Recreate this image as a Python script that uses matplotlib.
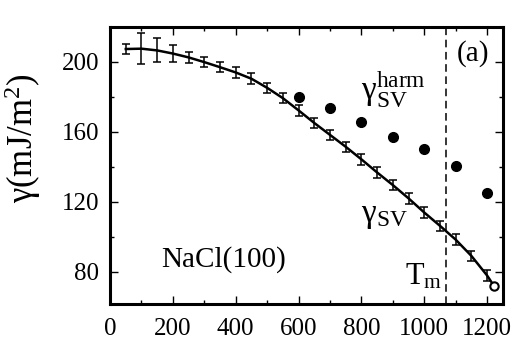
import matplotlib
matplotlib.use("Agg")
import matplotlib.pyplot as plt
from matplotlib.ticker import MultipleLocator

plt.rcParams['font.family'] = ['Liberation Serif', 'DejaVu Serif']
plt.rcParams['mathtext.fontset'] = 'custom'
plt.rcParams['mathtext.rm'] = 'Liberation Serif'
plt.rcParams['mathtext.it'] = 'Liberation Serif:italic'
plt.rcParams['mathtext.bf'] = 'Liberation Serif:bold'

# gamma_SV from simulation (with error bars)
temp = [50, 100, 150, 200, 250, 300, 350, 400, 450, 500, 550, 600,
        650, 700, 750, 800, 850, 900, 950, 1000, 1050, 1100, 1150, 1200]
gamma_sv = [207.4, 207.6, 206.6, 204.8, 202.6, 199.9, 197.0, 194.0, 190.4, 185.2, 179.3, 172.3,
            165.1, 158.3, 151.5, 144.3, 136.8, 129.6, 122.0, 113.9, 106.3, 98.4, 89.1, 77.9]
gamma_err = [3.0, 8.7, 6.9, 4.8, 3.3, 3.0, 3.0, 3.0, 3.0, 3.0, 3.0, 3.0,
             3.0, 3.0, 3.0, 3.0, 3.0, 3.0, 3.0, 3.0, 3.0, 3.0, 3.0, 3.0]

# fitted curve end point (open circle)
t_end = 1223
g_end = 71.6

# harmonic estimate
temp_harm = [600, 700, 800, 900, 1000, 1100, 1200]
gamma_harm = [180.2, 173.5, 165.5, 157.3, 150.3, 140.4, 125.2]

t_melt = 1068

fig = plt.figure(figsize=(5.12, 3.46), dpi=100)
ax = fig.add_axes([0.215, 0.121, 0.767, 0.801])

ax.plot(temp + [t_end], gamma_sv + [g_end], color='black', lw=1.8, zorder=3)
ax.errorbar(temp, gamma_sv, yerr=gamma_err, fmt='none', ecolor='black',
            elinewidth=1.1, capsize=3.2, capthick=1.1, zorder=3)
ax.plot([t_end], [g_end], 'o', mfc='white', mec='black', mew=1.5, ms=6, zorder=4)
ax.plot(temp_harm, gamma_harm, 'o', color='black', ms=7, zorder=3)
ax.axvline(t_melt, color='black', lw=1.1, ls=(0, (5, 3)), zorder=2)

ax.set_xlim(0, 1250)
ax.set_ylim(61.5, 220)
ax.xaxis.set_major_locator(MultipleLocator(200))
ax.xaxis.set_minor_locator(MultipleLocator(100))
ax.yaxis.set_major_locator(MultipleLocator(40))
ax.yaxis.set_minor_locator(MultipleLocator(20))
ax.tick_params(which='both', direction='in', top=True, right=True, width=1)
ax.tick_params(which='major', length=6, labelsize=18, pad=8)
ax.tick_params(axis='x', which='major', pad=10)
ax.tick_params(which='minor', length=3)
for s in ax.spines.values():
    s.set_linewidth(2.2)

ax.set_ylabel(r'$\mathrm{\gamma}$(mJ/m$^2$)', fontsize=25)
ax.yaxis.set_label_coords(-0.17, 0.6)

ax.text(800, 179, r'$\mathrm{\gamma}_{\mathrm{SV}}^{\mathrm{harm}}$', fontsize=24,
        ha='left', va='baseline')
ax.text(800, 108.5, r'$\mathrm{\gamma}_{\mathrm{SV}}$', fontsize=24,
        ha='left', va='baseline')
ax.text(940, 72.6, r'T$_{\mathrm{m}}$', fontsize=22, ha='left', va='baseline')
ax.text(163, 83, 'NaCl(100)', fontsize=21, ha='left', va='baseline')
ax.text(1155, 204.6, '(a)', fontsize=21, ha='center', va='center')

fig.savefig('out.png', dpi=100)
